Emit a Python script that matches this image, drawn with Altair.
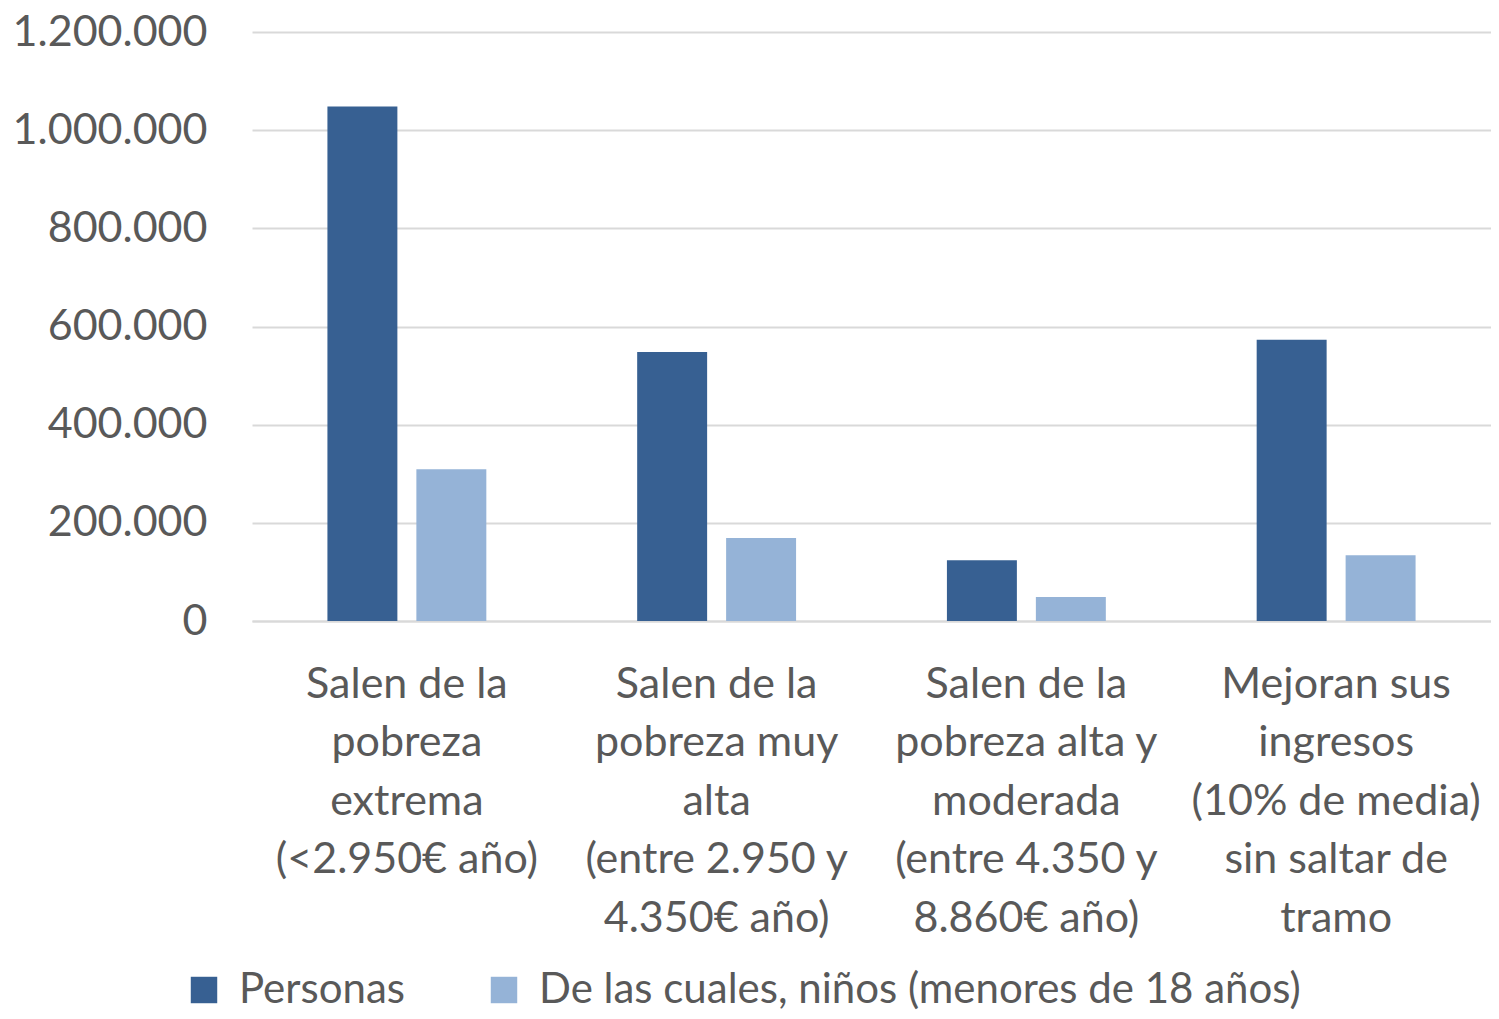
import altair as alt
import pandas as pd

categories = [
    "Salen de la|pobreza|extrema|(<2.950€ año)",
    "Salen de la|pobreza muy|alta|(entre 2.950 y|4.350€ año)",
    "Salen de la|pobreza alta y|moderada|(entre 4.350 y|8.860€ año)",
    "Mejoran sus|ingresos|(10% de media)|sin saltar de|tramo",
]
series = ["Personas", "De las cuales, niños (menores de 18 años)"]
personas = [1048000, 548000, 124000, 573000]
ninos = [309000, 169000, 49000, 134000]
y_ticks = [0, 200000, 400000, 600000, 800000, 1000000, 1200000]
colors = ["#376092", "#95B3D7"]

rows = []
for c, p, n in zip(categories, personas, ninos):
    rows.append({"cat": c, "serie": series[0], "valor": p})
    rows.append({"cat": c, "serie": series[1], "valor": n})
df = pd.DataFrame(rows)

FONT = "Lato"
GRAY = "#595959"

chart = alt.Chart(df).mark_bar().encode(
    x=alt.X("cat:N", sort=categories, title=None,
            scale=alt.Scale(paddingInner=0.487, paddingOuter=0.2435),
            axis=alt.Axis(labelExpr="split(datum.label, '|')", labelAngle=0,
                          labelFontSize=43, labelFont=FONT, labelColor=GRAY,
                          labelLineHeight=58.5, labelBaseline="top",
                          labelPadding=42, ticks=False, domain=True,
                          domainColor="#D9D9D9", domainWidth=2, grid=False,
                          labelLimit=400)),
    xOffset=alt.XOffset("serie:N", sort=series,
                        scale=alt.Scale(paddingInner=0.2135, paddingOuter=0)),
    y=alt.Y("valor:Q", title=None,
            scale=alt.Scale(domain=[0, 1200000], nice=False),
            axis=alt.Axis(values=y_ticks,
                          labelExpr="replace(format(datum.value, ',d'), regexp(',', 'g'), '.')",
                          labelFontSize=43, labelFont=FONT, labelColor=GRAY,
                          labelPadding=45, ticks=False, domain=False,
                          labelLimit=400,
                          gridColor="#D9D9D9", gridWidth=2)),
    color=alt.Color("serie:N", sort=series, title=None,
                    scale=alt.Scale(domain=series, range=colors),
                    legend=alt.Legend(orient="none", legendX=-69, legendY=937,
                                      direction="horizontal", symbolType="square",
                                      symbolSize=700, symbolStrokeWidth=0,
                                      labelFontSize=42, labelFont=FONT,
                                      labelColor=GRAY, labelOffset=14,
                                      columnPadding=78, padding=0,
                                      labelLimit=1000)),
).properties(
    width=1239, height=589,
    autosize=alt.AutoSizeParams(type="none"),
    padding={"left": 244, "top": 24, "right": 0, "bottom": 390},
).configure_view(stroke=None)

chart.save("out.html", embed_options={"renderer": "svg", "actions": False})
